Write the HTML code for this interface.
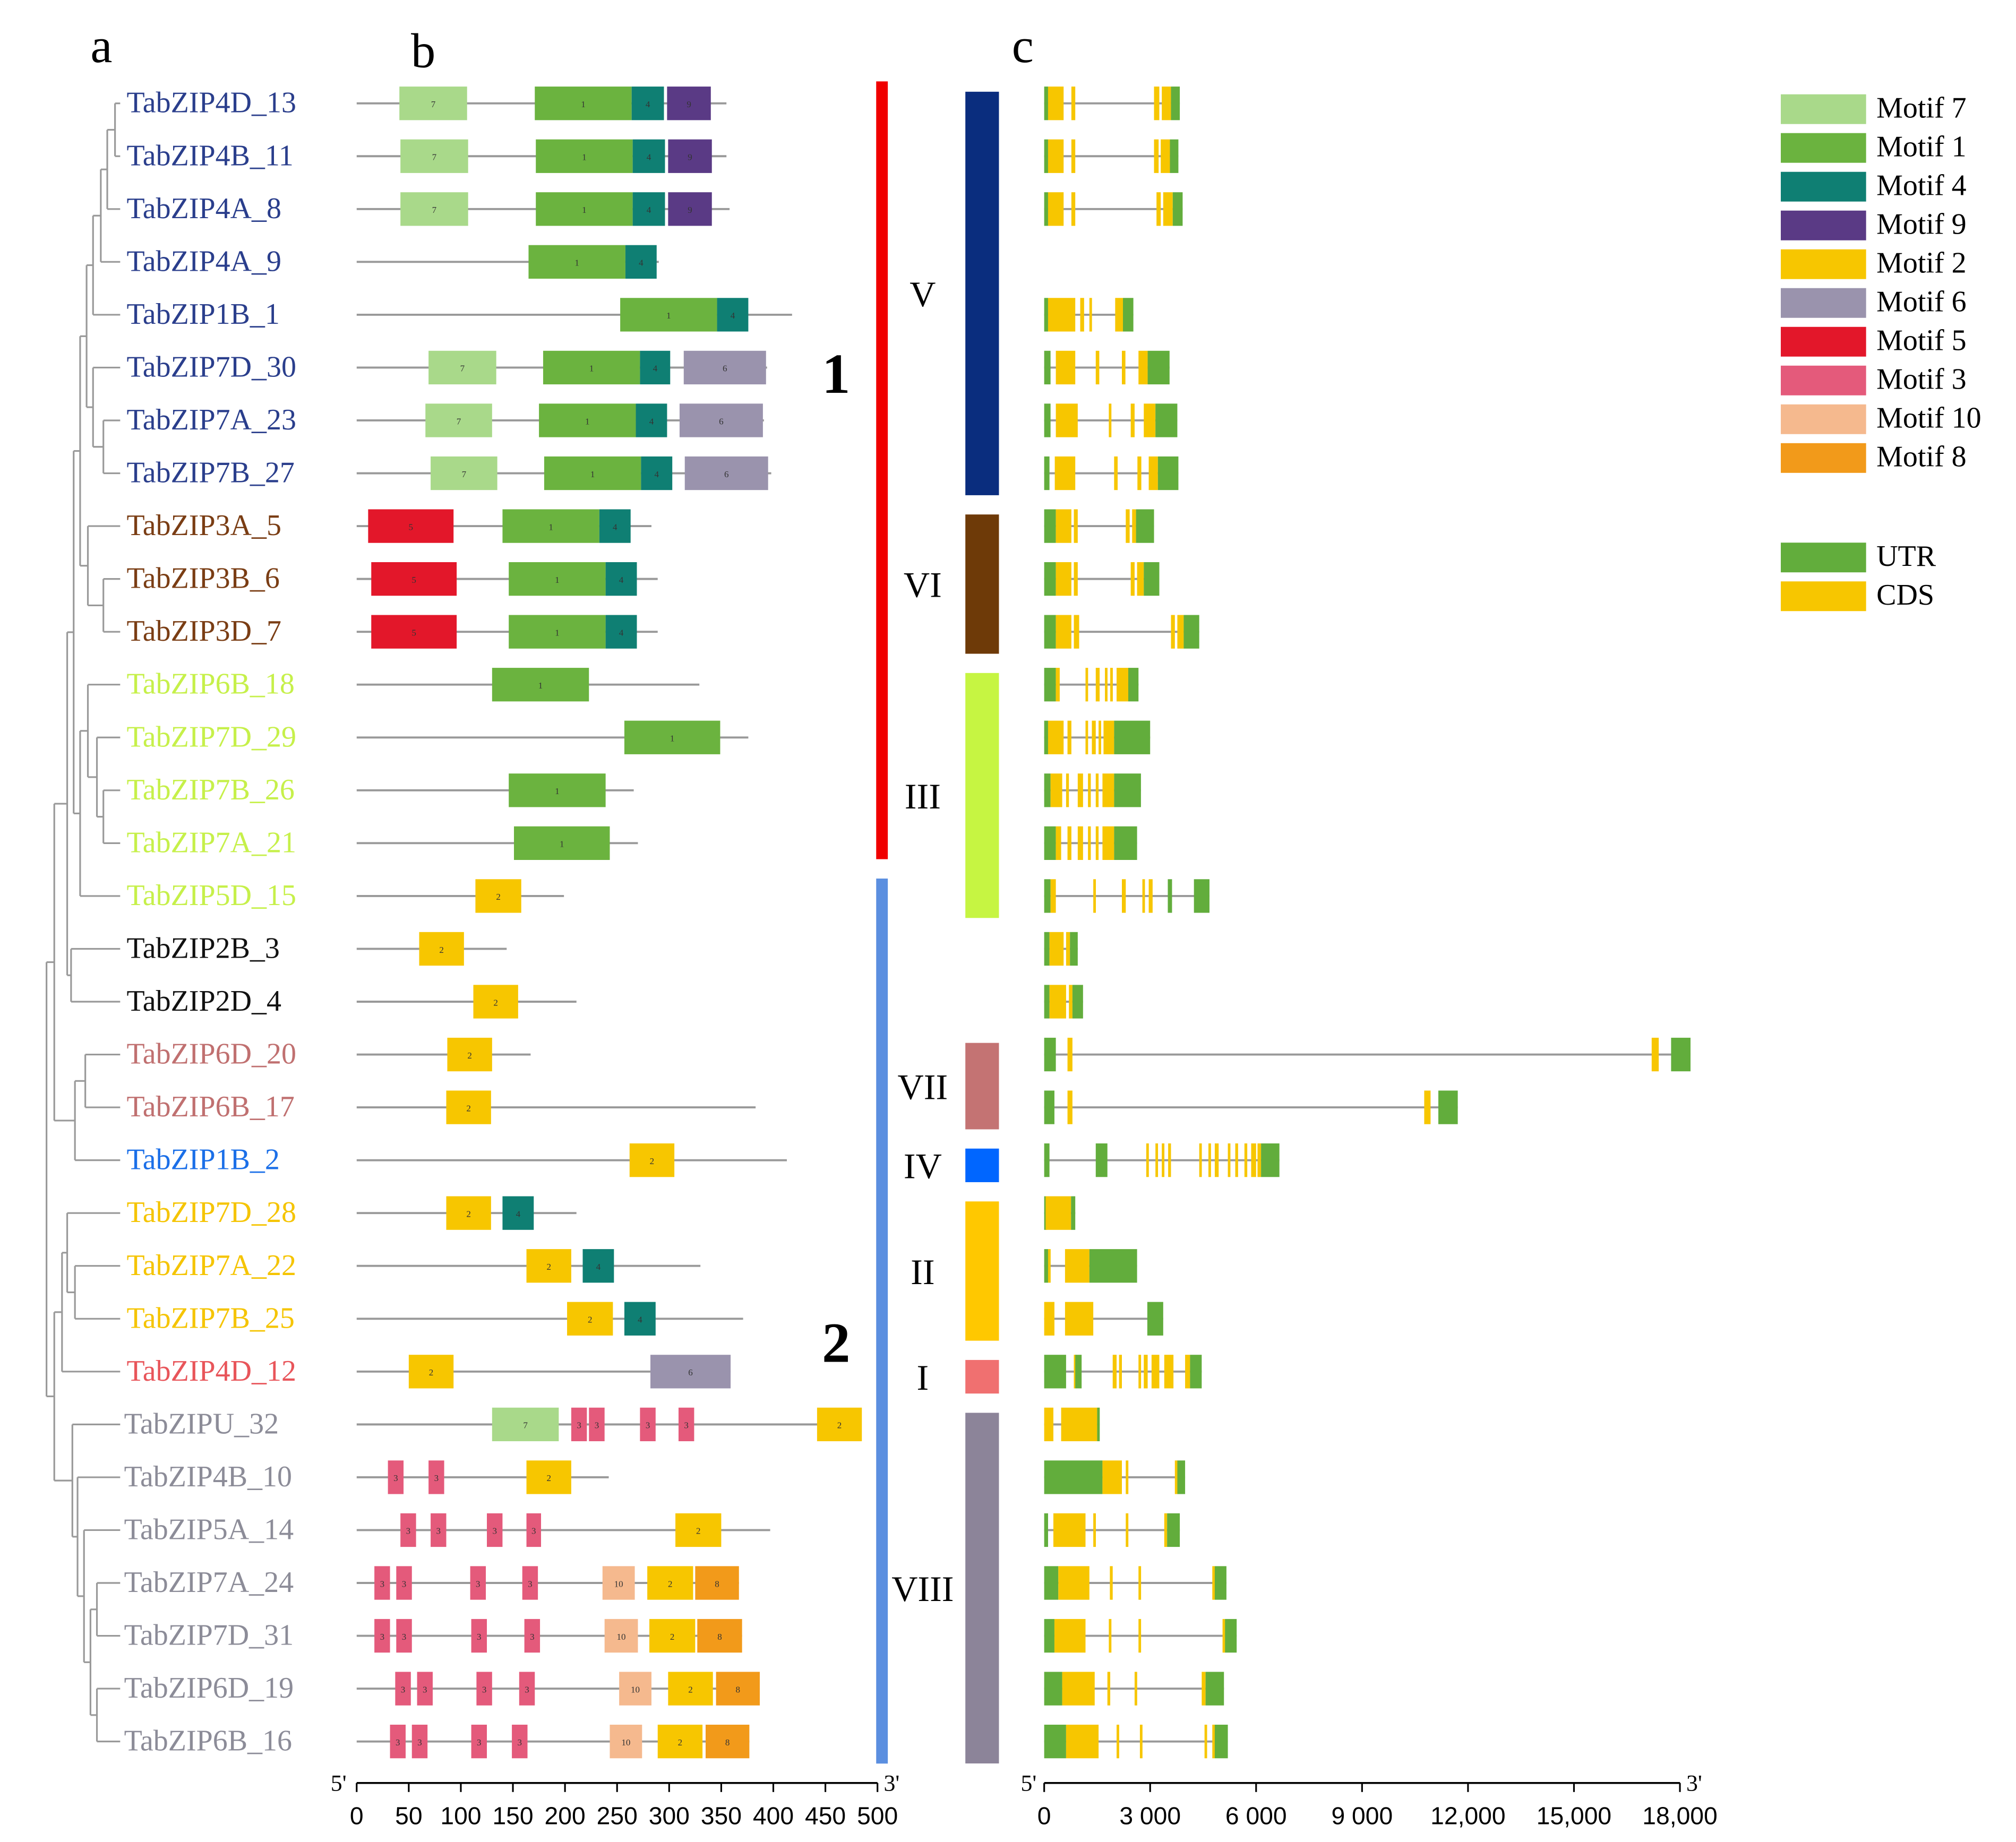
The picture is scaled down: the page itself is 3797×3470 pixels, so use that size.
<!DOCTYPE html>
<html><head><meta charset="utf-8"><style>
html,body{margin:0;padding:0;background:#fff;}
svg{display:block;}
text{font-family:"Liberation Serif",serif;}
.ax{font-family:"Liberation Sans",sans-serif;}
</style></head><body>
<svg id="fig" xmlns="http://www.w3.org/2000/svg" width="3797" height="3470" viewBox="0 0 1560 1425.7" preserveAspectRatio="none">
<text x="70" y="48" font-size="38">a</text>
<text x="318" y="52" font-size="38">b</text>
<text x="783" y="48" font-size="38">c</text>
<g id="tree"></g>
<g id="names"></g>
<g id="motifs"></g>
<g id="groups"></g>
<g id="struct"></g>
<g id="legend"></g>
</svg>
<script>
const genes=["TabZIP4D_13","TabZIP4B_11","TabZIP4A_8","TabZIP4A_9","TabZIP1B_1","TabZIP7D_30","TabZIP7A_23","TabZIP7B_27","TabZIP3A_5","TabZIP3B_6","TabZIP3D_7","TabZIP6B_18","TabZIP7D_29","TabZIP7B_26","TabZIP7A_21","TabZIP5D_15","TabZIP2B_3","TabZIP2D_4","TabZIP6D_20","TabZIP6B_17","TabZIP1B_2","TabZIP7D_28","TabZIP7A_22","TabZIP7B_25","TabZIP4D_12","TabZIPU_32","TabZIP4B_10","TabZIP5A_14","TabZIP7A_24","TabZIP7D_31","TabZIP6D_19","TabZIP6B_16"];
const nameColors=["#2a3e8c","#2a3e8c","#2a3e8c","#2a3e8c","#2a3e8c","#2a3e8c","#2a3e8c","#2a3e8c","#7a3d14","#7a3d14","#7a3d14","#c6f04a","#c6f04a","#c6f04a","#c6f04a","#c6f04a","#111","#111","#c07070","#c07070","#1b6fe8","#f5c400","#f5c400","#f5c400","#e8555a","#8c8c98","#8c8c98","#8c8c98","#8c8c98","#8c8c98","#8c8c98","#8c8c98"];
const protLen=[355,355,358,290,418,394,391,398,283,289,289,329,376,266,270,199,144,211,167,383,413,211,330,371,359,484,242,397,367,370,387,377];
const motifs=[
[[7,41,106],[1,171,264],[4,264,295],[9,298,340]],
[[7,42,107],[1,172,265],[4,265,296],[9,299,341]],
[[7,42,107],[1,172,265],[4,265,296],[9,299,341]],
[[1,165,258],[4,258,288]],
[[1,253,346],[4,346,376]],
[[7,69,134],[1,179,272],[4,272,301],[6,314,393]],
[[7,66,130],[1,175,268],[4,268,298],[6,310,390]],
[[7,71,135],[1,180,273],[4,273,303],[6,315,395]],
[[5,11,93],[1,140,233],[4,233,263]],
[[5,14,96],[1,146,239],[4,239,269]],
[[5,14,96],[1,146,239],[4,239,269]],
[[1,130,223]],
[[1,257,349]],
[[1,146,239]],
[[1,151,243]],
[[2,114,158]],
[[2,60,103]],
[[2,112,155]],
[[2,87,130]],
[[2,86,129]],
[[2,262,305]],
[[2,86,129],[4,140,170]],
[[2,163,206],[4,217,247]],
[[2,202,246],[4,257,287]],
[[2,50,93],[6,282,359]],
[[7,130,194],[3,206,221],[3,223,238],[3,272,287],[3,309,324],[2,442,485]],
[[3,30,45],[3,69,84],[2,163,206]],
[[3,42,57],[3,71,86],[3,125,140],[3,163,177],[2,306,350]],
[[3,17,32],[3,38,53],[3,109,124],[3,159,174],[10,236,267],[2,279,323],[8,325,367]],
[[3,17,32],[3,38,53],[3,110,125],[3,161,176],[10,238,270],[2,281,325],[8,327,370]],
[[3,37,52],[3,58,73],[3,115,130],[3,156,171],[10,252,283],[2,299,342],[8,345,387]],
[[3,32,47],[3,53,68],[3,110,125],[3,149,164],[10,243,274],[2,289,332],[8,335,377]]];
const geneLen=[3840,3800,3920,0,2525,3550,3770,3800,3110,3260,4390,2670,3000,2740,2630,4680,950,1100,18300,11710,6660,880,2630,3370,4460,1570,3990,3840,5160,5450,5090,5200];
const exons=[
[["U",0,110],["C",110,550],["C",770,880],["C",3110,3260],["C",3330,3590],["U",3590,3840]],
[["U",0,110],["C",110,550],["C",770,880],["C",3110,3240],["C",3300,3560],["U",3560,3800]],
[["U",0,110],["C",110,550],["C",770,880],["C",3180,3300],["C",3370,3640],["U",3640,3920]],
[],
[["U",0,110],["C",110,880],["C",1020,1130],["C",1280,1350],["C",2010,2230],["U",2230,2525]],
[["U",0,180],["C",330,880],["C",1460,1560],["C",2200,2300],["C",2670,2930],["U",2930,3550]],
[["U",0,180],["C",330,950],["C",1830,1900],["C",2450,2560],["C",2820,3150],["U",3150,3770]],
[["U",0,150],["C",300,880],["C",1980,2080],["C",2640,2750],["C",2960,3220],["U",3220,3800]],
[["U",0,330],["C",330,770],["C",840,950],["C",2310,2420],["C",2490,2600],["U",2600,3110]],
[["U",0,330],["C",330,770],["C",840,950],["C",2450,2560],["C",2630,2820],["U",2820,3260]],
[["U",0,330],["C",330,770],["C",840,990],["C",3590,3700],["C",3770,3950],["U",3950,4390]],
[["U",0,330],["C",330,440],["C",1170,1240],["C",1460,1570],["C",1720,1790],["C",1870,1940],["C",2050,2380],["U",2380,2670]],
[["U",0,110],["C",110,550],["C",660,770],["C",1170,1240],["C",1350,1460],["C",1540,1610],["C",1680,1980],["U",1980,3000]],
[["U",0,180],["C",180,510],["C",620,700],["C",950,1100],["C",1240,1320],["C",1460,1540],["C",1650,1980],["U",1980,2740]],
[["U",0,330],["C",330,480],["C",660,770],["C",950,1100],["C",1240,1320],["C",1460,1540],["C",1650,1980],["U",1980,2630]],
[["U",0,180],["C",180,330],["C",1390,1460],["C",2200,2310],["C",2780,2850],["C",2960,3070],["U",3500,3620],["U",4240,4680]],
[["U",0,150],["C",150,550],["C",620,730],["U",730,950]],
[["U",0,150],["C",150,620],["C",700,800],["U",800,1100]],
[["U",0,330],["C",660,800],["C",17200,17400],["U",17750,18300]],
[["U",0,290],["C",660,800],["C",10760,10940],["U",11160,11710]],
[["U",0,150],["U",1460,1790],["C",2890,2960],["C",3150,3220],["C",3330,3400],["C",3510,3590],["C",4390,4460],["C",4650,4720],["C",4830,4940],["C",5200,5270],["C",5410,5490],["C",5670,5750],["C",5860,6000],["C",6040,6140],["U",6140,6660]],
[["U",0,40],["C",40,760],["U",760,880]],
[["U",0,110],["C",110,180],["C",590,1280],["U",1280,2630]],
[["C",0,290],["C",590,1390],["U",2920,3370]],
[["U",0,620],["C",840,880],["U",880,1060],["C",1940,2050],["C",2120,2200],["C",2670,2740],["C",2820,2930],["C",3040,3260],["C",3400,3660],["C",3990,4130],["U",4130,4460]],
[["C",0,260],["C",480,1500],["U",1500,1570]],
[["U",0,1650],["C",1650,2200],["C",2310,2380],["C",3700,3770],["U",3770,3990]],
[["U",0,110],["C",260,1170],["C",1390,1460],["C",2310,2380],["C",3400,3480],["U",3480,3840]],
[["U",0,400],["C",400,1280],["C",1860,1940],["C",2670,2740],["C",4760,4830],["U",4830,5160]],
[["U",0,290],["C",290,1170],["C",1830,1900],["C",2670,2740],["C",5050,5120],["U",5120,5450]],
[["U",0,510],["C",510,1430],["C",1790,1870],["C",2560,2630],["C",4460,4570],["U",4570,5090]],
[["U",0,620],["C",620,1540],["C",2050,2120],["C",2710,2780],["C",4540,4610],["C",4760,4830],["U",4830,5200]]];
const aaTicks=[0,50,100,150,200,250,300,350,400,450,500];
const bpTicks=[0,3000,6000,9000,12000,15000,18000];
const bpTickLabels=["0","3 000","6 000","9 000","12,000","15,000","18,000"];
const groupNames=["V","VI","III","VII","IV","II","I","VIII"];
const groupRows=[[0,7],[8,10],[11,15],[18,19],[20,20],[21,23],[24,24],[25,31]];
const groupColors=["#0a2d7e","#6e3a08","#c6f542","#c47373","#0066ff","#ffc800","#f07070","#8c8499"];
const legendMotifs=[7,1,4,9,2,6,5,3,10,8];
const motifColor={1:"#6bb33f",2:"#f7c600",3:"#e45a7b",4:"#0f7f73",5:"#e3172a",6:"#9a93ad",7:"#a9d98a",8:"#f29a1a",9:"#5a3a85",10:"#f5b98e"};
const UTR="#62ad3c",CDS="#f7c600";

const NS="http://www.w3.org/2000/svg";
function mk(tag,attrs,parent){const e=document.createElementNS(NS,tag);for(const k in attrs)e.setAttribute(k,attrs[k]);parent.appendChild(e);return e;}
const rowY=i=>80+i*40.9;
const xAA=a=>276+a*0.806;
const xBP=b=>808+b*0.02733;

const tree={x:36,c:[{x:42,c:[{x:52,c:[{x:57,c:[{x:62,c:[{x:67,c:[{x:72,c:[{x:78,c:[{x:83,c:[{x:89,c:[0,1]},2]},3]},4]},{x:72,c:[5,{x:80,c:[6,7]}]}]},{x:68,c:[8,{x:80,c:[9,10]}]}]},{x:62,c:[{x:68,c:[11,{x:75,c:[12,{x:80,c:[13,14]}]}]},15]}]},{x:55,c:[16,17]}]},{x:58,c:[{x:66,c:[18,19]},20]}]},{x:42,c:[{x:48,c:[{x:52,c:[21,{x:58,c:[22,23]}]},24]},{x:56,c:[25,{x:60,c:[26,{x:65,c:[27,{x:70,c:[{x:75,c:[28,29]},{x:75,c:[30,31]}]}]}]}]}]}]};
const tg=document.getElementById('tree');
function drawNode(n){
  if(typeof n==="number")return rowY(n);
  const ys=n.c.map(ch=>{const y=drawNode(ch);const cx=typeof ch==="number"?93:ch.x;
    const l=mk('line',{x1:n.x,y1:y,x2:cx,y2:y,stroke:"#999","stroke-width":1.3},tg);
    
    
    return y;});
  const v=mk('line',{x1:n.x,y1:Math.min(...ys),x2:n.x,y2:Math.max(...ys),stroke:"#999","stroke-width":1.3},tg);
  
  
  return (Math.min(...ys)+Math.max(...ys))/2;
}
drawNode(tree);

const ng=document.getElementById('names');
genes.forEach((g,i)=>{const t=mk('text',{x:i>=25?96:98,y:rowY(i)+7,"font-size":23,fill:nameColors[i]},ng);t.textContent=g;
  
  });

const mg=document.getElementById('motifs');
genes.forEach((g,i)=>{const y=rowY(i);
  const l=mk('line',{x1:xAA(0),y1:y,x2:xAA(protLen[i]),y2:y,stroke:"#999","stroke-width":1.6},mg);
  
  
  motifs[i].forEach(m=>{const r=mk('rect',{x:xAA(m[1]),y:y-13,width:xAA(m[2])-xAA(m[1]),height:26,fill:motifColor[m[0]]},mg);
    
    
    const t=mk('text',{x:(xAA(m[1])+xAA(m[2]))/2,y:y+3,"font-size":7,"text-anchor":"middle",fill:"#333"},mg);t.textContent=m[0];
    
    });
});
const ab=mk('line',{x1:276,y1:1380,x2:679,y2:1380,stroke:"#000","stroke-width":1.5},mg);


aaTicks.forEach(v=>{const tl=mk('line',{x1:xAA(v),y1:1380,x2:xAA(v),y2:1387,stroke:"#000","stroke-width":1.3},mg);
  
  
  const t=mk('text',{x:xAA(v),y:1412,"font-size":19,"text-anchor":"middle",class:"ax"},mg);t.textContent=v;
  
  });
[["5'",262],["3'",690]].forEach(p=>{const t=mk('text',{x:p[1],y:1386,"font-size":18,"text-anchor":"middle"},mg);t.textContent=p[0];
  
  });

const gg=document.getElementById('groups');
const r1=mk('rect',{x:678,y:63,width:9,height:602,fill:"#f00000"},gg);


const r2=mk('rect',{x:678,y:680,width:9,height:685,fill:"#5b8fe0"},gg);


[["1",290],["2",1040]].forEach(p=>{const t=mk('text',{x:647,y:p[1]+14,"font-size":44,"font-weight":"bold","text-anchor":"middle"},gg);t.textContent=p[0];
  
  });
groupNames.forEach((n,k)=>{const y0=rowY(groupRows[k][0])-9,y1=rowY(groupRows[k][1])+17;
  const r=mk('rect',{x:747,y:y0,width:26,height:y1-y0,fill:groupColors[k]},gg);
  
  
  const t=mk('text',{x:714,y:(y0+y1)/2+10,"font-size":28,"text-anchor":"middle"},gg);t.textContent=n;
  
  });

const sg=document.getElementById('struct');
genes.forEach((g,i)=>{if(!geneLen[i])return;const y=rowY(i);
  const l=mk('line',{x1:xBP(0),y1:y,x2:xBP(geneLen[i]),y2:y,stroke:"#999","stroke-width":1.6},sg);
  
  
  exons[i].forEach(e=>{const r=mk('rect',{x:xBP(e[1]),y:y-13,width:Math.max(2,xBP(e[2])-xBP(e[1])),height:26,fill:e[0]==="U"?UTR:CDS},sg);
    
    });
});
const sb=mk('line',{x1:808,y1:1380,x2:1300,y2:1380,stroke:"#000","stroke-width":1.5},sg);


bpTicks.forEach((v,k)=>{const tl=mk('line',{x1:xBP(v),y1:1380,x2:xBP(v),y2:1387,stroke:"#000","stroke-width":1.3},sg);
  
  
  const t=mk('text',{x:xBP(v),y:1412,"font-size":19,"text-anchor":"middle",class:"ax"},sg);t.textContent=bpTickLabels[k];
  
  });
[["5'",796],["3'",1311]].forEach(p=>{const t=mk('text',{x:p[1],y:1386,"font-size":18,"text-anchor":"middle"},sg);t.textContent=p[0];
  
  });

const lg=document.getElementById('legend');
legendMotifs.forEach((m,k)=>{const y=73+k*30;
  const r=mk('rect',{x:1378,y:y,width:66,height:23,fill:motifColor[m]},lg);
  
  
  const t=mk('text',{x:1452,y:y+18,"font-size":23},lg);t.textContent="Motif "+m;
  
  });
[["UTR",UTR,420],["CDS",CDS,450]].forEach(p=>{
  const r=mk('rect',{x:1378,y:p[2],width:66,height:23,fill:p[1]},lg);
  
  
  const t=mk('text',{x:1452,y:p[2]+18,"font-size":23},lg);t.textContent=p[0];
  
  });
</script>
</body></html>
